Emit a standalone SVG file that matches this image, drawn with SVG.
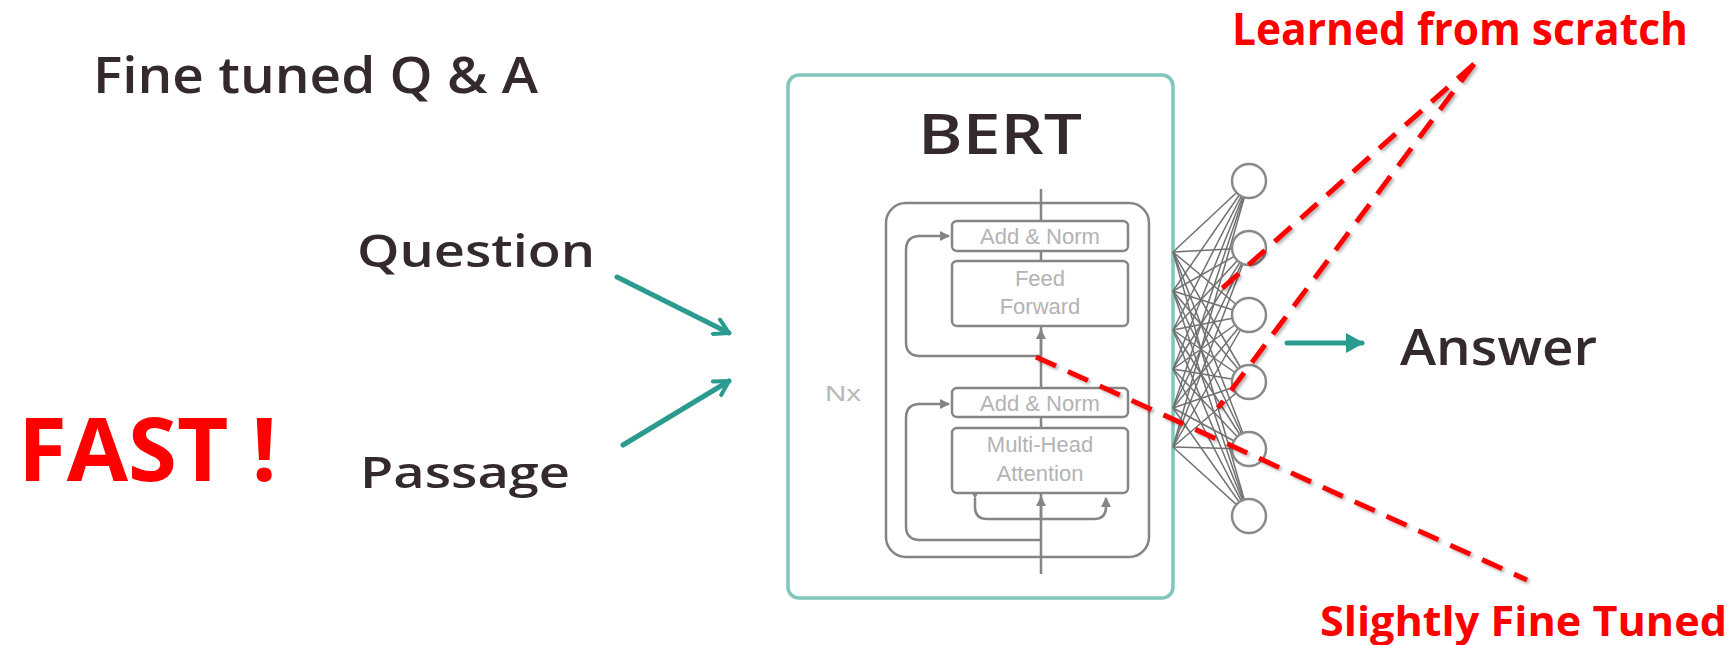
<svg xmlns="http://www.w3.org/2000/svg" width="1734" height="645" viewBox="0 0 1734 645">
  <style>
    .dark { font-family: "Open Sans", "Liberation Sans", sans-serif; font-weight: 600; fill: #34292b; }
    .red { font-family: "Open Sans", "Liberation Sans", sans-serif; font-weight: 700; fill: #ff0000; }
    .inner { font-family: "Liberation Sans", Arial, sans-serif; fill: #b3b3b3; font-size: 22px; text-anchor: middle; }
    .teal { stroke: #2a9b8e; stroke-width: 5; fill: none; stroke-linecap: round; stroke-linejoin: round; }
    .gray { stroke: #858585; stroke-width: 2.5; fill: none; }
    .block { stroke: #858585; stroke-width: 2.5; fill: #ffffff; }
    .net { stroke: #707070; stroke-width: 1.5; }
    .node { stroke: #8a8a8a; stroke-width: 2.5; fill: #ffffff; }
    .dash { stroke: #ff0000; stroke-width: 5; stroke-dasharray: 22 13; fill: none; }
  </style>
  <defs>
    <marker id="gHead" viewBox="0 0 10 10" refX="9" refY="5" markerWidth="4" markerHeight="4" orient="auto">
      <path d="M0,0 L10,5 L0,10 z" fill="#858585"/>
    </marker>
    <marker id="tOpen" viewBox="0 0 10 10" refX="8" refY="5" markerWidth="4" markerHeight="4" orient="auto" markerUnits="strokeWidth">
      <path d="M1,1 L8,5 L1,9" fill="none" stroke="#2a9b8e" stroke-width="2" stroke-linecap="round" stroke-linejoin="round"/>
    </marker>
    <marker id="tFill" viewBox="0 0 10 10" refX="8" refY="5" markerWidth="4" markerHeight="4.4" orient="auto" markerUnits="strokeWidth">
      <path d="M0,0 L9,5 L0,10 z" fill="#2a9b8e"/>
    </marker>
    <filter id="shadow" x="-10%" y="-10%" width="120%" height="120%">
      <feDropShadow dx="2" dy="2" stdDeviation="1.5" flood-color="#000" flood-opacity="0.3"/>
    </filter>
  </defs>

  <rect width="1734" height="645" fill="#ffffff"/>

  <!-- titles and side labels -->
  <g id="title">
    <text class="dark" x="93" y="93" font-size="50" textLength="445" lengthAdjust="spacingAndGlyphs">Fine tuned Q &amp; A</text>
  </g>
  <g id="fast">
    <text class="red" x="18" y="481" font-size="88" textLength="259" lengthAdjust="spacingAndGlyphs">FAST !</text>
  </g>
  <g id="question">
    <text class="dark" x="357" y="267" font-size="46" textLength="238" lengthAdjust="spacingAndGlyphs">Question</text>
  </g>
  <g id="passage">
    <text class="dark" x="360" y="488" font-size="44" textLength="210" lengthAdjust="spacingAndGlyphs">Passage</text>
  </g>
  <g id="answer">
    <text class="dark" x="1400" y="365" font-size="50" textLength="197" lengthAdjust="spacingAndGlyphs">Answer</text>
  </g>

  <!-- BERT encoder block -->
  <g id="bert">
    <rect x="788" y="75" width="385" height="523" rx="11" fill="#ffffff" stroke="#7fc6bd" stroke-width="3.5"/>
    <text class="dark" x="918" y="154" font-size="56" font-weight="700" textLength="164" lengthAdjust="spacingAndGlyphs">BERT</text>
    <text x="825" y="401" font-family="Liberation Sans, Arial, sans-serif" font-size="22" fill="#b8b8b8" textLength="36" lengthAdjust="spacingAndGlyphs">Nx</text>
    <rect class="gray" x="886" y="203" width="263" height="354" rx="20"/>
    <!-- main data path -->
    <line class="gray" x1="1041" y1="189" x2="1041" y2="574"/>
    <line class="gray" x1="1041" y1="356" x2="1041" y2="330" marker-end="url(#gHead)"/>
    <!-- residual connections -->
    <path class="gray" d="M1041 356 H920 Q906 356 906 342 V250 Q906 236 920 236 H949" marker-end="url(#gHead)"/>
    <path class="gray" d="M1041 540 H920 Q906 540 906 526 V418 Q906 404 920 404 H949" marker-end="url(#gHead)"/>
    <!-- attention inputs -->
    <path class="gray" d="M975 498 V507 Q975 519 987 519 H1094 Q1106 519 1106 507 V498" marker-start="url(#gHead)" marker-end="url(#gHead)"/>
    <line class="gray" x1="1041" y1="519" x2="1041" y2="497" marker-end="url(#gHead)"/>
    <!-- sublayers -->
    <rect class="block" x="952" y="221" width="176" height="30" rx="5"/>
    <text class="inner" x="1040" y="244">Add &amp; Norm</text>
    <rect class="block" x="952" y="261" width="176" height="65" rx="5"/>
    <text class="inner" x="1040" y="286">Feed</text>
    <text class="inner" x="1040" y="314">Forward</text>
    <rect class="block" x="952" y="388" width="176" height="29" rx="5"/>
    <text class="inner" x="1040" y="411">Add &amp; Norm</text>
    <rect class="block" x="952" y="428" width="176" height="65" rx="5"/>
    <text class="inner" x="1040" y="452">Multi-Head</text>
    <text class="inner" x="1040" y="481">Attention</text>
  </g>

  <!-- output layer -->
  <g id="output-layer">
    <g>
      <line class="net" x1="1173" y1="252" x2="1249" y2="181"/><line class="net" x1="1173" y1="252" x2="1249" y2="248"/><line class="net" x1="1173" y1="252" x2="1249" y2="315"/><line class="net" x1="1173" y1="252" x2="1249" y2="382"/><line class="net" x1="1173" y1="252" x2="1249" y2="449"/><line class="net" x1="1173" y1="252" x2="1249" y2="516"/>
      <line class="net" x1="1173" y1="291" x2="1249" y2="181"/><line class="net" x1="1173" y1="291" x2="1249" y2="248"/><line class="net" x1="1173" y1="291" x2="1249" y2="315"/><line class="net" x1="1173" y1="291" x2="1249" y2="382"/><line class="net" x1="1173" y1="291" x2="1249" y2="449"/><line class="net" x1="1173" y1="291" x2="1249" y2="516"/>
      <line class="net" x1="1173" y1="330" x2="1249" y2="181"/><line class="net" x1="1173" y1="330" x2="1249" y2="248"/><line class="net" x1="1173" y1="330" x2="1249" y2="315"/><line class="net" x1="1173" y1="330" x2="1249" y2="382"/><line class="net" x1="1173" y1="330" x2="1249" y2="449"/><line class="net" x1="1173" y1="330" x2="1249" y2="516"/>
      <line class="net" x1="1173" y1="369" x2="1249" y2="181"/><line class="net" x1="1173" y1="369" x2="1249" y2="248"/><line class="net" x1="1173" y1="369" x2="1249" y2="315"/><line class="net" x1="1173" y1="369" x2="1249" y2="382"/><line class="net" x1="1173" y1="369" x2="1249" y2="449"/><line class="net" x1="1173" y1="369" x2="1249" y2="516"/>
      <line class="net" x1="1173" y1="408" x2="1249" y2="181"/><line class="net" x1="1173" y1="408" x2="1249" y2="248"/><line class="net" x1="1173" y1="408" x2="1249" y2="315"/><line class="net" x1="1173" y1="408" x2="1249" y2="382"/><line class="net" x1="1173" y1="408" x2="1249" y2="449"/><line class="net" x1="1173" y1="408" x2="1249" y2="516"/>
      <line class="net" x1="1173" y1="447" x2="1249" y2="181"/><line class="net" x1="1173" y1="447" x2="1249" y2="248"/><line class="net" x1="1173" y1="447" x2="1249" y2="315"/><line class="net" x1="1173" y1="447" x2="1249" y2="382"/><line class="net" x1="1173" y1="447" x2="1249" y2="449"/><line class="net" x1="1173" y1="447" x2="1249" y2="516"/>
    </g>
    <circle class="node" cx="1249" cy="181" r="17"/>
    <circle class="node" cx="1249" cy="248" r="17"/>
    <circle class="node" cx="1249" cy="315" r="17"/>
    <circle class="node" cx="1249" cy="382" r="17"/>
    <circle class="node" cx="1249" cy="449" r="17"/>
    <circle class="node" cx="1249" cy="516" r="17"/>
  </g>

  <!-- connectors -->
  <g id="connectors">
    <line class="teal" x1="617" y1="277" x2="729" y2="333" marker-end="url(#tOpen)"/>
    <line class="teal" x1="623" y1="445" x2="729" y2="381" marker-end="url(#tOpen)"/>
    <line class="teal" x1="1287" y1="343" x2="1362" y2="343" marker-end="url(#tFill)"/>
  </g>

  <!-- annotations -->
  <g id="annotations">
    <g filter="url(#shadow)">
      <line class="dash" x1="1474" y1="64" x2="1217" y2="293"/>
      <line class="dash" x1="1474" y1="64" x2="1218" y2="408"/>
      <line class="dash" x1="1036" y1="357" x2="1527" y2="580"/>
    </g>
    <text class="red" x="1232" y="45" font-size="45" textLength="456" lengthAdjust="spacingAndGlyphs">Learned from scratch</text>
    <text class="red" x="1320" y="636" font-size="41" textLength="407" lengthAdjust="spacingAndGlyphs">Slightly Fine Tuned</text>
  </g>
</svg>
